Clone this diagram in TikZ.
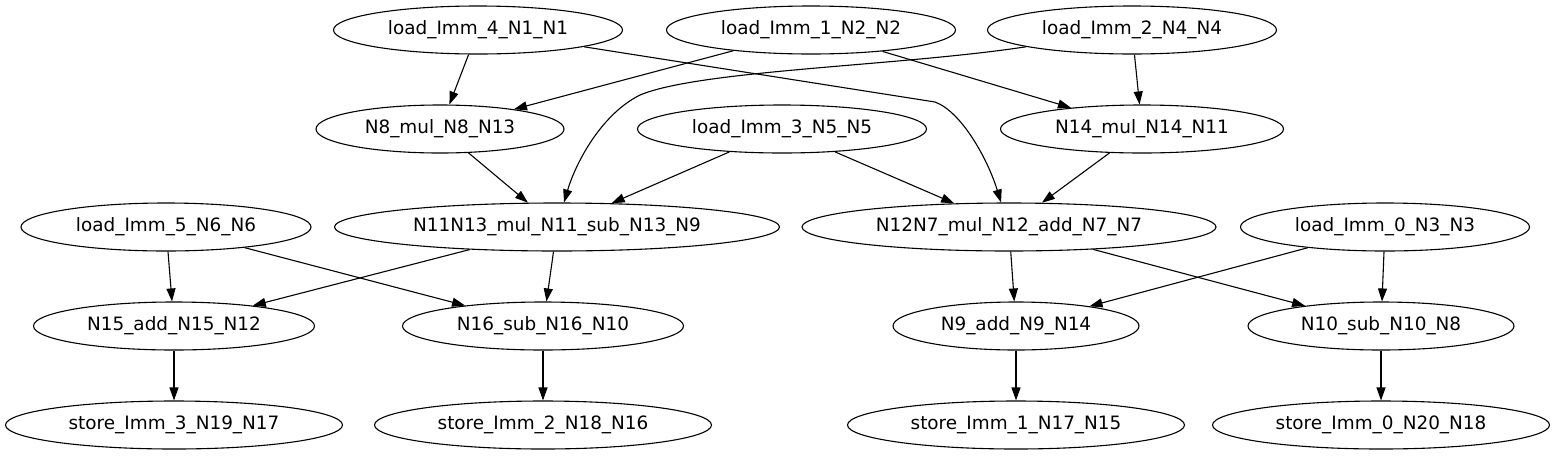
\documentclass[tikz,border=0pt]{standalone}
\usepackage{fontspec}
\setmainfont{DejaVu Sans}
\usetikzlibrary{shapes.geometric,arrows.meta}
\begin{document}
\begin{tikzpicture}[x=1pt,y=-1pt,
  nd/.style={draw,ellipse,line width=1.1pt,inner sep=0pt,minimum height=48pt,
    font=\fontsize{18.4}{22}\selectfont},
  ed/.style={line width=1.1pt,-{Triangle[length=13pt,width=9pt]}}]
\useasboundingbox (0,0) rectangle (1553,456);
\node[nd,minimum width=289pt] (load4) at (478,30) {load\_Imm\_4\_N1\_N1};
\node[nd,minimum width=289pt] (load1) at (811,30) {load\_Imm\_1\_N2\_N2};
\node[nd,minimum width=289pt] (load2) at (1132,30) {load\_Imm\_2\_N4\_N4};
\node[nd,minimum width=248pt] (n8) at (440,129) {N8\_mul\_N8\_N13};
\node[nd,minimum width=289pt] (load3) at (782,129) {load\_Imm\_3\_N5\_N5};
\node[nd,minimum width=283pt] (n14) at (1142,129) {N14\_mul\_N14\_N11};
\node[nd,minimum width=290pt] (load5) at (166,227) {load\_Imm\_5\_N6\_N6};
\node[nd,minimum width=445pt] (n11) at (557,227) {N11N13\_mul\_N11\_sub\_N13\_N9};
\node[nd,minimum width=414pt] (n12) at (1009,227) {N12N7\_mul\_N12\_add\_N7\_N7};
\node[nd,minimum width=289pt] (load0) at (1385,227) {load\_Imm\_0\_N3\_N3};
\node[nd,minimum width=281pt] (n15) at (174,326) {N15\_add\_N15\_N12};
\node[nd,minimum width=281pt] (n16) at (543,326) {N16\_sub\_N16\_N10};
\node[nd,minimum width=246pt] (n9) at (1016,326) {N9\_add\_N9\_N14};
\node[nd,minimum width=266pt] (n10) at (1381,326) {N10\_sub\_N10\_N8};
\node[nd,minimum width=337pt] (st3) at (174,425) {store\_Imm\_3\_N19\_N17};
\node[nd,minimum width=337pt] (st2) at (543,425) {store\_Imm\_2\_N18\_N16};
\node[nd,minimum width=337pt] (st1) at (1016,425) {store\_Imm\_1\_N17\_N15};
\node[nd,minimum width=337pt] (st0) at (1381,425) {store\_Imm\_0\_N20\_N18};
\draw[ed] (load4) -- (n8);
\draw[ed] (load1) -- (n8);
\draw[ed] (load1) -- (n14);
\draw[ed] (load2) -- (n14);
\draw[ed] (load4.-9) -- (935,102) .. controls (962,112) and (988,160) .. (n12.108);
\draw[ed] (load2.-171) .. controls (900,66) and (700,70) .. (640,95) .. controls (600,115) and (575,165) .. (n11.74);
\draw[ed] (n8) -- (n11);
\draw[ed] (load3) -- (n11);
\draw[ed] (load3) -- (n12);
\draw[ed] (n14) -- (n12);
\draw[ed] (n11) -- (n15);
\draw[ed] (n11) -- (n16);
\draw[ed] (load5) -- (n15);
\draw[ed] (load5) -- (n16);
\draw[ed] (n12) -- (n9);
\draw[ed] (n12) -- (n10);
\draw[ed] (load0) -- (n9);
\draw[ed] (load0) -- (n10);
\draw[ed] (n15) -- (st3);
\draw[ed] (n16) -- (st2);
\draw[ed] (n9) -- (st1);
\draw[ed] (n10) -- (st0);
\end{tikzpicture}
\end{document}
